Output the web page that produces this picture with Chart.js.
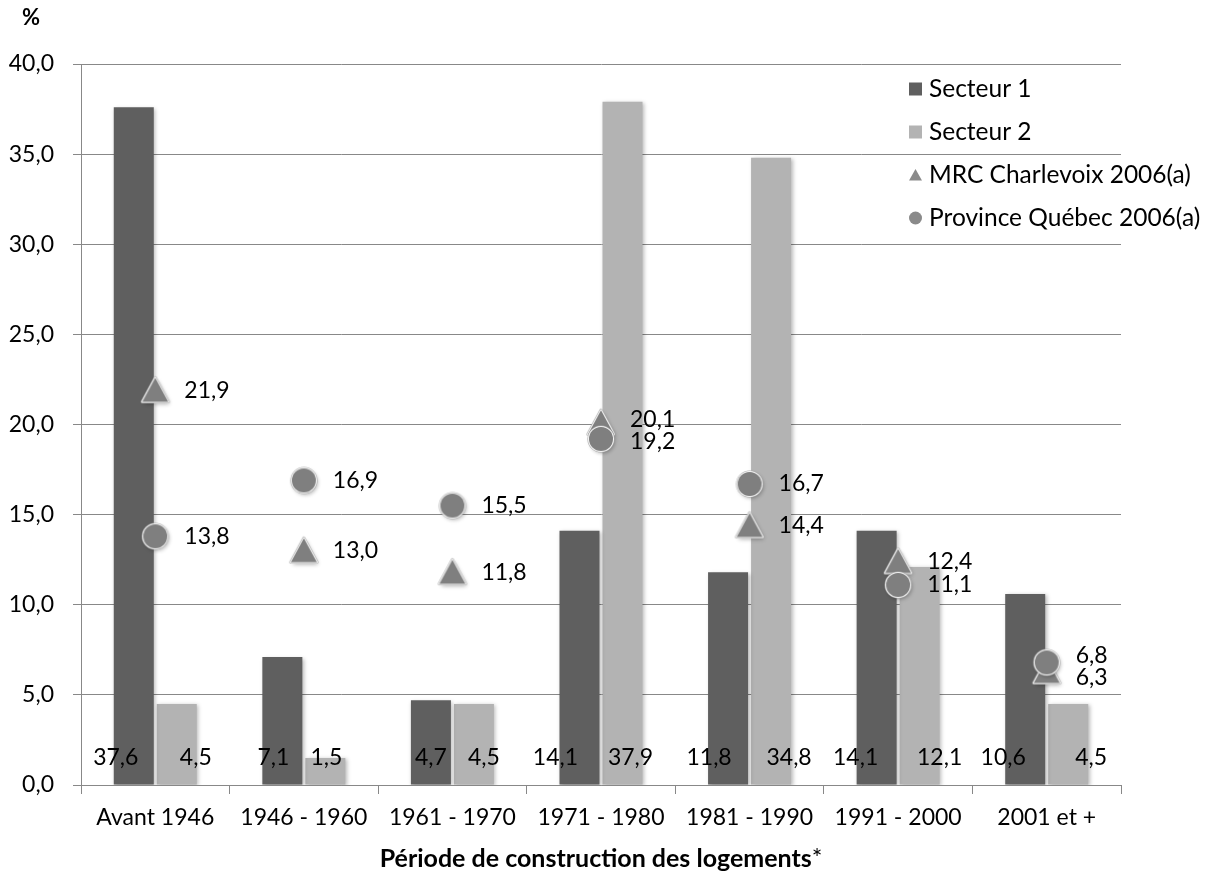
<!DOCTYPE html>
<html lang="fr">
<head>
<meta charset="utf-8">
<title>Période de construction des logements</title>
<script src="https://cdn.jsdelivr.net/npm/chart.js@4.4.1/dist/chart.umd.min.js"></script>
<style>
  html, body { margin: 0; padding: 0; background: #ffffff; }
  #wrap { width: 1209px; height: 873px; position: relative; }
  canvas { display: block; }
</style>
</head>
<body>
<div id="wrap"><canvas id="chart" width="1209" height="873"></canvas></div>
<script>
// Construction periods (x categories)
const periods = ['Avant 1946', '1946 - 1960', '1961 - 1970', '1971 - 1980', '1981 - 1990', '1991 - 2000', '2001 et +'];

// Share of dwellings (%) per period
const secteur1 = [37.6, 7.1, 4.7, 14.1, 11.8, 14.1, 10.6];
const secteur2 = [4.5, 1.5, 4.5, 37.9, 34.8, 12.1, 4.5];
const mrcCharlevoix2006 = [21.9, 13.0, 11.8, 20.1, 14.4, 12.4, 6.3];
const provinceQuebec2006 = [13.8, 16.9, 15.5, 19.2, 16.7, 11.1, 6.8];

// Y axis tick values
const yTickValues = [0, 5, 10, 15, 20, 25, 30, 35, 40];

// Horizontal nudges (px) of the value labels placed at the foot of each bar
const secteur1LabelNudge = [-18, -9, 0, -24, -19, -21, -22];
const secteur2LabelNudge = [19, 1, 10, 8, 18, 20, 23];

const FONT = 'Lato, "Open Sans", "DejaVu Sans", sans-serif';
const FONT_SIZE = 23;
const LEGEND_SIZE = 24.5;
const TITLE_SIZE = 25;
const GRID = '#888888';
const DARK = '#5f5f5f';
const LIGHT = '#b3b3b3';
const MARK = '#7f7f7f';

const fmt = v => v.toFixed(1).replace('.', ',');

// Point glyphs with white rim and soft drop shadow
function makeMarker(kind) {
  const c = document.createElement('canvas');
  c.width = 38; c.height = 38;
  const g = c.getContext('2d');
  const cx = 19, cy = 19;
  const path = () => {
    g.beginPath();
    if (kind === 'circle') {
      g.arc(cx, cy, 12, 0, Math.PI * 2);
    } else {
      g.moveTo(cx, cy - 12.5);
      g.lineTo(cx + 13, cy + 11.5);
      g.lineTo(cx - 13, cy + 11.5);
      g.closePath();
    }
  };
  g.save();
  g.shadowColor = 'rgba(0,0,0,0.35)';
  g.shadowBlur = 4;
  g.shadowOffsetX = 1.5;
  g.shadowOffsetY = 2;
  path();
  g.fillStyle = MARK;
  g.fill();
  g.restore();
  g.lineJoin = 'round';
  path();
  g.lineWidth = 3.2;
  g.strokeStyle = 'rgba(165,165,165,0.9)';
  g.stroke();
  path();
  g.lineWidth = 2;
  g.strokeStyle = '#f6f6f6';
  g.stroke();
  path();
  g.fillStyle = MARK;
  g.fill();
  return c;
}
const triangleMarker = makeMarker('triangle');
const circleMarker = makeMarker('circle');

// Soft shadow under the bars
const barShadow = {
  id: 'barShadow',
  beforeDatasetDraw(chart, args) {
    if (args.meta.type !== 'bar') return;
    const ctx = chart.ctx;
    ctx.save();
    ctx.shadowColor = 'rgba(0,0,0,0.28)';
    ctx.shadowBlur = 4;
    ctx.shadowOffsetX = 1.5;
    ctx.shadowOffsetY = 1.5;
  },
  afterDatasetDraw(chart, args) {
    if (args.meta.type !== 'bar') return;
    chart.ctx.restore();
  }
};

// Value labels, legend, axis titles
const annotations = {
  id: 'annotations',
  afterDatasetsDraw(chart) {
    const ctx = chart.ctx;
    const y = chart.scales.y;
    ctx.save();
    ctx.fillStyle = '#000000';
    ctx.font = `${FONT_SIZE}px ${FONT}`;
    ctx.textBaseline = 'middle';
    ctx.textAlign = 'center';

    // bar values near the base line
    const baseY = y.getPixelForValue(0) - 27;
    const m0 = chart.getDatasetMeta(0), m1 = chart.getDatasetMeta(1);
    secteur1.forEach((v, i) => ctx.fillText(fmt(v), m0.data[i].x + secteur1LabelNudge[i], baseY));
    secteur2.forEach((v, i) => ctx.fillText(fmt(v), m1.data[i].x + secteur2LabelNudge[i], baseY));

    // marker values, spread apart when they would collide
    const m2 = chart.getDatasetMeta(2), m3 = chart.getDatasetMeta(3);
    ctx.textAlign = 'left';
    periods.forEach((p, i) => {
      const a = { v: mrcCharlevoix2006[i], x: m2.data[i].x, y: m2.data[i].y };
      const b = { v: provinceQuebec2006[i], x: m3.data[i].x, y: m3.data[i].y };
      const minGap = 22;
      if (Math.abs(a.y - b.y) < minGap) {
        const mid = (a.y + b.y) / 2;
        const up = a.y <= b.y ? a : b;
        const down = up === a ? b : a;
        up.y = mid - minGap / 2;
        down.y = mid + minGap / 2;
      }
      [a, b].forEach(t => ctx.fillText(fmt(t.v), t.x + 29, t.y));
    });

    // legend
    const lx = 909, items = [
      { label: 'Secteur 1', kind: 'square', color: DARK },
      { label: 'Secteur 2', kind: 'square', color: LIGHT },
      { label: 'MRC Charlevoix 2006(a)', kind: 'triangle', color: '#8a8a8a' },
      { label: 'Province Québec 2006(a)', kind: 'circle', color: '#8a8a8a' }
    ];
    ctx.font = `${LEGEND_SIZE}px ${FONT}`;
    items.forEach((it, k) => {
      const cy = 89 + k * 43;
      ctx.fillStyle = it.color;
      ctx.beginPath();
      if (it.kind === 'square') {
        ctx.rect(lx, cy - 6.5, 13, 13);
      } else if (it.kind === 'triangle') {
        ctx.moveTo(lx + 6.5, cy - 6);
        ctx.lineTo(lx + 13, cy + 5.5);
        ctx.lineTo(lx, cy + 5.5);
        ctx.closePath();
      } else {
        ctx.arc(lx + 6.5, cy, 6.5, 0, Math.PI * 2);
      }
      ctx.fill();
      ctx.fillStyle = '#000000';
      ctx.fillText(it.label, lx + 20, cy);
    });

    // unit label
    ctx.font = `bold ${FONT_SIZE - 1}px ${FONT}`;
    ctx.textAlign = 'center';
    ctx.fillText('%', 31, 18);

    // x axis title: bold text followed by a regular asterisk
    const area = chart.chartArea;
    const main = 'Période de construction des logements';
    ctx.textBaseline = 'alphabetic';
    ctx.font = `bold ${TITLE_SIZE}px ${FONT}`;
    const w1 = ctx.measureText(main).width;
    ctx.font = `${TITLE_SIZE}px ${FONT}`;
    const w2 = ctx.measureText('*').width;
    const startX = (area.left + area.right) / 2 - (w1 + w2) / 2;
    ctx.textAlign = 'left';
    ctx.font = `bold ${TITLE_SIZE}px ${FONT}`;
    ctx.fillText(main, startX, 867);
    ctx.font = `${TITLE_SIZE}px ${FONT}`;
    ctx.fillText('*', startX + w1, 867);
    ctx.restore();
  }
};

new Chart(document.getElementById('chart'), {
  type: 'bar',
  data: {
    labels: periods,
    datasets: [
      { label: 'Secteur 1', data: secteur1, backgroundColor: DARK, order: 2,
        categoryPercentage: 0.579, barPercentage: 0.93 },
      { label: 'Secteur 2', data: secteur2, backgroundColor: LIGHT, order: 2,
        categoryPercentage: 0.579, barPercentage: 0.93 },
      { type: 'line', label: 'MRC Charlevoix 2006(a)', data: mrcCharlevoix2006, showLine: false,
        pointStyle: triangleMarker, pointRadius: 14, order: 1 },
      { type: 'line', label: 'Province Québec 2006(a)', data: provinceQuebec2006, showLine: false,
        pointStyle: circleMarker, pointRadius: 14, order: 0 }
    ]
  },
  options: {
    responsive: false,
    animation: false,
    events: [],
    layout: { padding: { top: 64, right: 88, bottom: 0, left: 0 } },
    plugins: { legend: { display: false }, tooltip: { enabled: false } },
    scales: {
      x: {
        grid: { offset: true, drawOnChartArea: false, drawTicks: true, tickLength: 9, color: GRID, lineWidth: 1 },
        border: { color: GRID, width: 1 },
        ticks: { color: '#000000', font: { family: FONT, size: FONT_SIZE }, padding: 10, maxRotation: 0, autoSkip: false },
        afterFit: s => { s.height = 88; }
      },
      y: {
        min: 0, max: 40,
        afterBuildTicks: s => { s.ticks = yTickValues.map(v => ({ value: v })); },
        grid: { color: GRID, lineWidth: 1, tickLength: 8 },
        border: { color: GRID, width: 1 },
        ticks: { color: '#000000', font: { family: FONT, size: FONT_SIZE }, padding: 19, callback: v => fmt(v) },
        afterFit: s => { s.width = 81; }
      }
    }
  },
  plugins: [barShadow, annotations]
});
</script>
</body>
</html>
